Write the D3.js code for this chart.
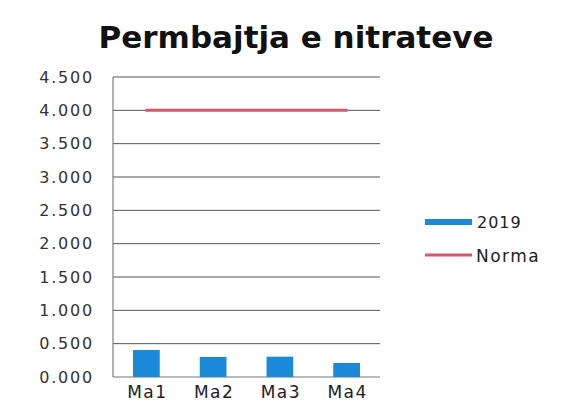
<!DOCTYPE html>
<html>
<head>
<meta charset="utf-8">
<script src="https://cdn.jsdelivr.net/npm/d3@7"></script>
<style>
body{margin:0;background:#fff;}
text{font-family:"DejaVu Sans",Verdana,sans-serif;}
</style>
</head>
<body>
<div id="container"></div>
<script>
var categories = ['Ma1','Ma2','Ma3','Ma4'];
var values2019 = [0.405, 0.30, 0.305, 0.21];
var normaValues = [4.0, 4.0, 4.0, 4.0];
var yTicks = [0, 0.5, 1, 1.5, 2, 2.5, 3, 3.5, 4, 4.5];

var width = 570;
var height = 406;
var plotLeft = 113, plotRight = 380, plotTop = 77, plotBottom = 377;

var svg = d3.select('#container').append('svg')
    .attr('width',width).attr('height',height);

var x = d3.scaleBand().domain(categories).range([plotLeft,plotRight]).paddingInner(0.6).paddingOuter(0.3);
var y = d3.scaleLinear().domain([0,4.5]).range([plotBottom,plotTop]);
var fmt = d3.format('.3f');

// grid
svg.append('g').selectAll('line').data(yTicks).enter().append('line')
    .attr('x1',plotLeft).attr('x2',plotRight)
    .attr('y1',d=>y(d)).attr('y2',d=>y(d))
    .attr('stroke',d=>d===0?'#777':'#555').attr('stroke-width',1);

svg.append('line').attr('x1',plotLeft).attr('x2',plotLeft).attr('y1',plotTop).attr('y2',plotBottom)
    .attr('stroke','#666').attr('stroke-width',1);

// y labels
svg.append('g').selectAll('text').data(yTicks).enter().append('text')
    .attr('x',94).attr('y',d=>y(d)).attr('dy','0.35em')
    .attr('text-anchor','end').attr('font-size',16).attr('letter-spacing',1.8)
    .attr('fill','#333')
    .text(d=>fmt(d));

// bars
svg.append('g').selectAll('rect').data(values2019).enter().append('rect')
    .attr('x',(d,i)=>x(categories[i]))
    .attr('width',x.bandwidth())
    .attr('y',d=>y(d))
    .attr('height',d=>y(0)-y(d))
    .attr('fill','#1b8ad9');

// norma line
var line = d3.line()
    .x((d,i)=>x(categories[i])+x.bandwidth()/2)
    .y(d=>y(d));
svg.append('path').datum(normaValues).attr('d',line)
    .attr('fill','none').attr('stroke','#d9566b').attr('stroke-width',3)
    .attr('stroke-linecap','round');

// x labels
svg.append('g').selectAll('text').data(categories).enter().append('text')
    .attr('x',d=>x(d)+x.bandwidth()/2+1).attr('y',398)
    .attr('text-anchor','middle').attr('font-size',17).attr('letter-spacing',1.5)
    .attr('fill','#222')
    .text(d=>d);

// title
svg.append('text').attr('x',296).attr('y',48).attr('text-anchor','middle')
    .attr('font-size',31).attr('font-weight','bold').attr('fill','#111')
    .text('Permbajtja e nitrateve');

// legend
svg.append('rect').attr('x',425).attr('y',219).attr('width',47).attr('height',6).attr('fill','#1b8ad9');
svg.append('text').attr('x',477).attr('y',222).attr('dy','0.35em').attr('font-size',16).attr('letter-spacing',1)
    .attr('fill','#222').text('2019');
svg.append('line').attr('x1',425).attr('x2',472).attr('y1',255).attr('y2',255)
    .attr('stroke','#d9566b').attr('stroke-width',3);
svg.append('text').attr('x',476).attr('y',256).attr('dy','0.35em').attr('font-size',17).attr('letter-spacing',1.5)
    .attr('fill','#222').text('Norma');
</script>
</body>
</html>
